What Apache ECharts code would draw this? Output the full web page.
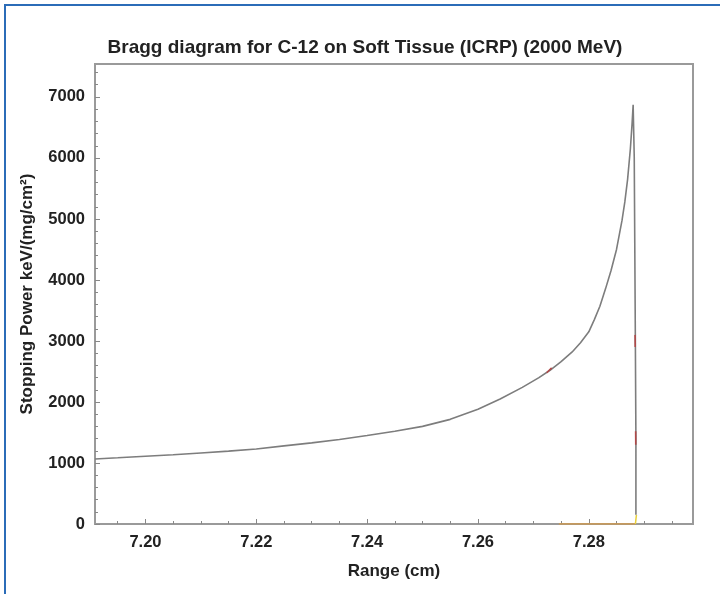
<!DOCTYPE html>
<html>
<head>
<meta charset="utf-8">
<script src="https://cdn.jsdelivr.net/npm/echarts@6/dist/echarts.min.js"></script>
<style>
html,body{margin:0;padding:0;background:#fff;}
#chart{width:720px;height:594px;}
</style>
</head>
<body>
<div id="chart"></div>
<script>
// ---- data ----
const titleText = 'Bragg diagram for C-12 on Soft Tissue (ICRP) (2000 MeV)';
const xAxisName = 'Range (cm)';
const yAxisName = 'Stopping Power keV/(mg/cm\u00B2)';
const xTickLabels = [7.20, 7.22, 7.24, 7.26, 7.28];
const xMinorTicks = [7.195, 7.200, 7.205, 7.210, 7.215, 7.220, 7.225, 7.230, 7.235, 7.240, 7.245, 7.250, 7.255, 7.260, 7.265, 7.270, 7.275, 7.280, 7.285, 7.290, 7.295];
const yTickLabels = [0, 1000, 2000, 3000, 4000, 5000, 6000, 7000];
const yMinorTicks = [200,400,600,800,1200,1400,1600,1800,2200,2400,2600,2800,3200,3400,3600,3800,4200,4400,4600,4800,5200,5400,5600,5800,6200,6400,6600,6800,7200,7400];

// main Bragg curve
const rangeCm = [7.1909, 7.195, 7.200, 7.205, 7.210, 7.215, 7.220, 7.225, 7.230, 7.235, 7.240, 7.245, 7.250, 7.255, 7.260, 7.264, 7.268, 7.271, 7.273, 7.275, 7.277, 7.2785, 7.280, 7.281, 7.282, 7.283, 7.284, 7.285, 7.286, 7.2865, 7.287, 7.2875, 7.2878, 7.2880, 7.2882, 7.2884, 7.2885, 7.2885];
const stoppingPower = [1065, 1085, 1110, 1135, 1165, 1195, 1230, 1280, 1330, 1385, 1450, 1520, 1600, 1715, 1880, 2050, 2240, 2400, 2520, 2660, 2820, 2970, 3150, 3350, 3570, 3850, 4150, 4500, 4980, 5280, 5650, 6150, 6550, 6870, 6000, 3000, 1400, 150];

// red fragments visible along the curve (null separates fragments)
const redRange = [7.2724, 7.2733, null, 7.28835, 7.28838, null, 7.28845, 7.28847];
const redValues = [2480, 2560, null, 3100, 2900, null, 1520, 1300];

// orange / yellow baseline near the end of range
const baseRange = [7.2746, 7.2884];
const baseValues = [0, 0];
const tailRange = [7.2884, 7.2886];
const tailValues = [0, 150];

const xMin = 7.1909, xMax = 7.2988, yMin = 0, yMax = 7540;

const toPairs = (xs, ys) => xs.map((x, i) => (x === null ? [null, null] : [x, ys[i]]));

const chart = echarts.init(document.getElementById('chart'), null, {renderer: 'canvas'});
const font = 'Liberation Sans, Arial, sans-serif';
const axisColor = '#9a9a9a';
const textColor = '#222';

chart.setOption({
  animation: false,
  backgroundColor: '#fff',
  title: {
    text: titleText,
    left: 360, top: 33, textAlign: 'center',
    textStyle: {fontFamily: font, fontSize: 19, fontWeight: 'bold', color: textColor}
  },
  grid: {left: 95, right: 27, top: 64, bottom: 70, show: true, borderColor: axisColor, borderWidth: 2, backgroundColor: 'transparent'},
  xAxis: [{
    type: 'value', min: xMin, max: xMax, position: 'bottom',
    name: xAxisName, nameLocation: 'middle', nameGap: 39,
    nameTextStyle: {fontFamily: font, fontSize: 17, fontWeight: 'bold', color: textColor},
    axisLine: {show: true, lineStyle: {color: axisColor, width: 2}},
    axisTick: {show: true, inside: true, length: 5, customValues: xTickLabels, lineStyle: {color: '#888', width: 1}},
    axisLabel: {customValues: xTickLabels, margin: 10, fontFamily: font, fontSize: 16.5, fontWeight: 'bold', color: textColor, formatter: v => v.toFixed(2)},
    splitLine: {show: false}
  }, {
    type: 'value', min: xMin, max: xMax, position: 'bottom',
    axisLine: {show: false},
    axisTick: {show: true, inside: true, length: 3, customValues: xMinorTicks, lineStyle: {color: '#888', width: 1}},
    axisLabel: {show: false},
    splitLine: {show: false}
  }],
  yAxis: [{
    type: 'value', min: yMin, max: yMax, position: 'left',
    name: yAxisName, nameLocation: 'middle', nameGap: 59,
    nameTextStyle: {fontFamily: font, fontSize: 17, fontWeight: 'bold', color: textColor},
    axisLine: {show: true, lineStyle: {color: axisColor, width: 2}},
    axisTick: {show: true, inside: true, length: 5, customValues: yTickLabels, lineStyle: {color: '#888', width: 1}},
    axisLabel: {customValues: yTickLabels, margin: 10, fontFamily: font, fontSize: 16.5, fontWeight: 'bold', color: textColor, formatter: v => String(v)},
    splitLine: {show: false}
  }, {
    type: 'value', min: yMin, max: yMax, position: 'left',
    axisLine: {show: false},
    axisTick: {show: true, inside: true, length: 3, customValues: yMinorTicks, lineStyle: {color: '#888', width: 1}},
    axisLabel: {show: false},
    splitLine: {show: false}
  }],
  graphic: [
    {type: 'line', shape: {x1: 5, y1: 4, x2: 5, y2: 594}, style: {stroke: '#2b6cb8', lineWidth: 2}, silent: true},
    {type: 'line', shape: {x1: 4, y1: 5, x2: 720, y2: 5}, style: {stroke: '#2b6cb8', lineWidth: 2}, silent: true}
  ],
  series: [{
    type: 'line', xAxisIndex: 0, yAxisIndex: 0,
    data: toPairs(baseRange, baseValues),
    showSymbol: false, lineStyle: {color: '#d39a4a', width: 1.5}, z: 3
  }, {
    type: 'line', xAxisIndex: 0, yAxisIndex: 0,
    data: toPairs(tailRange, tailValues),
    showSymbol: false, lineStyle: {color: '#e8cf3a', width: 1.5}, z: 3
  }, {
    type: 'line', xAxisIndex: 0, yAxisIndex: 0,
    data: toPairs(rangeCm, stoppingPower),
    showSymbol: false, smooth: false,
    lineStyle: {color: '#7d7d7d', width: 1.6}, z: 4
  }, {
    type: 'line', xAxisIndex: 0, yAxisIndex: 0,
    data: toPairs(redRange, redValues),
    showSymbol: false, connectNulls: false,
    lineStyle: {color: '#b04848', width: 1.6}, z: 5
  }]
});
</script>
</body>
</html>
